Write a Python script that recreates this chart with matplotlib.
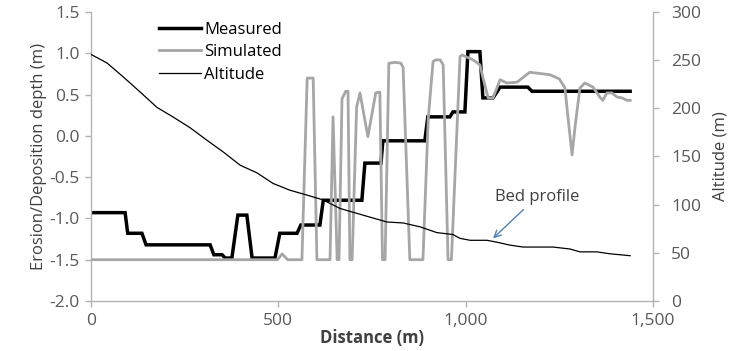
import matplotlib
matplotlib.use("Agg")
import matplotlib.pyplot as plt
from matplotlib.ticker import FuncFormatter

plt.rcParams["font.family"] = ["Open Sans", "DejaVu Sans"]

# Measured erosion/deposition depth (m) along the reach
measured_x = [0, 91, 98, 136, 147, 318, 328, 350, 358, 376, 392, 416, 430, 491,
              504, 550, 560, 611, 620, 723, 731, 774, 779, 891, 899, 958, 966,
              998, 1006, 1038, 1046, 1073, 1092, 1166, 1177, 1439]
measured_y = [-0.93, -0.93, -1.18, -1.18, -1.32, -1.32, -1.44, -1.44, -1.48, -1.48,
              -0.96, -0.96, -1.48, -1.48, -1.18, -1.18, -1.08, -1.08, -0.78, -0.78,
              -0.33, -0.33, -0.06, -0.06, 0.23, 0.23, 0.29, 0.29, 1.02, 1.02,
              0.46, 0.46, 0.59, 0.59, 0.54, 0.54]

# Simulated erosion/deposition depth (m)
simulated_x = [0, 498, 510, 525, 563, 577, 593, 603, 638, 646, 657, 662, 670, 680,
               686, 691, 697, 709, 718, 739, 760, 771, 778, 785, 795, 812, 827, 833,
               851, 886, 900, 913, 920, 932, 940, 953, 962, 985, 990, 1020, 1038,
               1046, 1060, 1073, 1092, 1110, 1137, 1171, 1190, 1225, 1250, 1265,
               1273, 1284, 1292, 1305, 1318, 1340, 1358, 1366, 1377, 1390, 1404,
               1417, 1431, 1439]
simulated_y = [-1.5, -1.5, -1.43, -1.5, -1.5, 0.70, 0.70, -1.5, -1.5, 0.23, -1.5,
               -1.5, 0.45, 0.54, 0.54, -1.5, -1.5, 0.35, 0.52, -0.01, 0.52, 0.53,
               -1.5, -1.5, 0.88, 0.89, 0.88, 0.83, -1.5, -1.5, 0.20, 0.90, 0.92,
               0.92, 0.86, -1.5, -1.5, 0.96, 0.98, 0.92, 0.86, 0.71, 0.46, 0.46,
               0.68, 0.64, 0.65, 0.77, 0.76, 0.74, 0.69, 0.58, 0.23, -0.23, 0.11,
               0.58, 0.64, 0.59, 0.47, 0.43, 0.52, 0.52, 0.47, 0.46, 0.43, 0.43]

# Bed altitude (m)
altitude_x = [0, 43, 85, 131, 176, 219, 264, 309, 352, 398, 443, 486, 531, 576,
              619, 665, 745, 790, 833, 878, 923, 966, 985, 1012, 1057, 1084, 1118,
              1153, 1190, 1233, 1278, 1305, 1350, 1385, 1439]
altitude_y = [256, 247, 233, 217, 201, 191, 180, 167, 155, 141, 133, 122, 115, 110,
              105, 96, 87, 82, 81, 77, 71, 69, 65, 63, 63, 61, 58, 56, 56, 56, 54,
              51, 51, 49, 47]

x_ticks = [0, 500, 1000, 1500]
left_ticks = [-2.0, -1.5, -1.0, -0.5, 0.0, 0.5, 1.0, 1.5]
right_ticks = [0, 50, 100, 150, 200, 250, 300]

axis_grey = "#b3b3b3"
label_grey = "#595959"
text_dark = "#404040"
fs = 12.5

fig = plt.figure(figsize=(7.38, 3.51), dpi=100)
ax = fig.add_axes([0.1233, 0.1425, 0.7615, 0.8233])
ax2 = ax.twinx()
ax2.set_position(ax.get_position())

l_meas, = ax.plot(measured_x, measured_y, color="black", lw=2.5,
                  solid_joinstyle="miter", label="Measured", zorder=2)
l_sim, = ax.plot(simulated_x, simulated_y, color="#a6a6a6", lw=2.0,
                 label="Simulated", zorder=3)
l_alt, = ax2.plot(altitude_x, altitude_y, color="black", lw=0.9, label="Altitude")

ax.set_xlim(0, 1500)
ax.set_ylim(-2.0, 1.5)
ax2.set_ylim(0, 300)
ax.set_xticks(x_ticks)
ax.set_yticks(left_ticks)
ax2.set_yticks(right_ticks)
ax.xaxis.set_major_formatter(FuncFormatter(lambda v, p: f"{int(v):,}"))
ax.yaxis.set_major_formatter(FuncFormatter(lambda v, p: f"{v:.1f}"))

for a in (ax, ax2):
    for s in a.spines.values():
        s.set_color(axis_grey)
        s.set_linewidth(1.0)
    a.spines["top"].set_visible(False)
    a.tick_params(colors=axis_grey, labelcolor=label_grey, labelsize=fs,
                  length=4, width=1.0, direction="out")
ax.spines["right"].set_visible(False)
ax2.spines["left"].set_visible(False)
ax2.spines["bottom"].set_visible(False)
ax.tick_params(axis="x", pad=5)
ax.tick_params(axis="y", pad=4)
ax2.tick_params(axis="y", pad=9)

ax.set_xlabel("Distance (m)", fontsize=fs - 0.5, fontweight="bold",
              color=text_dark, labelpad=0)
ax.set_ylabel("Erosion/Deposition depth (m)", fontsize=fs - 0.5,
              color=text_dark, labelpad=2)
ax2.set_ylabel("Altitude (m)", fontsize=fs - 0.5, color=text_dark, labelpad=8)

ax2.annotate("Bed profile", xy=(1073, 65), xytext=(1190, 108),
             xycoords="data", textcoords="data", ha="center", va="center",
             fontsize=fs - 0.5, color=text_dark,
             arrowprops=dict(arrowstyle="->", color="#4f81bd", lw=1.0,
                             shrinkA=2, shrinkB=0))

leg = ax.legend(handles=[l_meas, l_sim, l_alt], loc="upper left",
                bbox_to_anchor=(0.11, 0.99), frameon=False, fontsize=fs - 0.5,
                handlelength=2.5, handletextpad=0.2, labelspacing=0.4,
                borderaxespad=0)
for t in leg.get_texts():
    t.set_color("black")

fig.savefig("out.png", dpi=100)
